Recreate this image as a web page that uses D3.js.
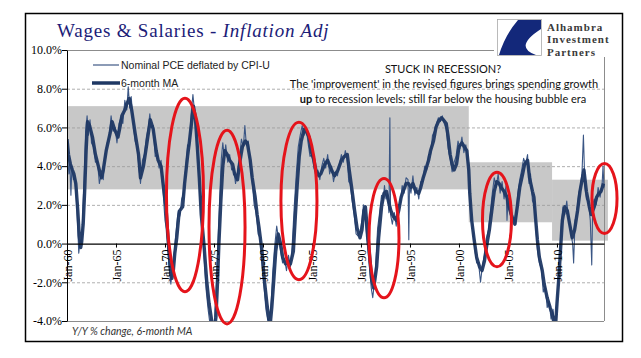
<!DOCTYPE html>
<html><head><meta charset="utf-8">
<script src="https://cdn.jsdelivr.net/npm/d3@7"></script>
<style>body{margin:0;background:#fff}svg{display:block}</style>
</head><body>
<svg id="chart" width="641" height="358"></svg>
<script>
// ---------- data ----------
const xTickYears = [1960,1965,1970,1975,1980,1985,1990,1995,2000,2005,2010];
const yTickValues = [-4,-2,0,2,4,6,8,10];
const titleMain = "Wages & Salaries - ";
const titleItalic = "Inflation Adj";
const legendLabels = ["Nominal PCE deflated by CPI-U","6-month MA"];
const noteLines = ["STUCK IN RECESSION?","The 'improvement' in the revised figures brings spending growth","up"," to recession levels; still far below the housing bubble era"];
const footnote = "Y/Y % change, 6-month MA";
const logoLines = ["Alhambra","Investment","Partners"];

// shaded ranges: [startYear, endYear, low%, high%]
const bands = [[1960,2001.0,2.8,7.1],[2001.0,2009.5,1.1,4.2],[2009.5,2015.2,0.15,3.3]];
// highlighted ellipses: [centerYear, center%, halfWidthYears, halfHeight%]
const ellipses = [[1972.04,2.51,1.89,5.0],[1976.33,0.85,1.84,5.0],[1983.67,2.2,1.84,4.07],[1992.35,0.28,1.53,3.08],[2003.88,1.24,1.48,2.44],[2014.85,2.33,1.28,1.81]];

// 6-month MA (year, %)
const maSeries = [
[1960.0,5.4],[1960.15,4.6],[1960.35,4.1],[1960.55,3.8],[1960.7,3.6],[1960.9,3.1],[1961.1,1.7],[1961.25,0.4],[1961.4,-0.2],[1961.5,0.1],[1961.65,1.0],[1961.8,2.7],[1961.95,4.8],
[1962.1,6.3],[1962.3,6.1],[1962.6,5.5],[1962.9,4.6],[1963.2,4.0],[1963.5,3.4],[1963.7,3.8],[1964.0,4.8],[1964.4,5.7],[1964.6,6.3],[1964.85,5.9],[1965.2,5.5],[1965.4,6.0],[1965.6,6.6],[1965.9,6.9],
[1966.1,7.2],[1966.35,7.5],[1966.6,6.9],[1966.95,5.7],[1967.3,4.6],[1967.5,3.4],[1967.8,4.0],[1968.1,5.0],[1968.3,5.7],[1968.5,6.4],[1968.8,5.9],[1969.1,4.8],[1969.3,4.3],[1969.6,4.0],[1969.8,3.1],
[1970.1,1.9],[1970.3,0.3],[1970.5,-1.0],[1970.7,-1.8],[1970.85,-1.4],[1971.0,-0.5],[1971.2,0.3],[1971.4,1.4],[1971.5,1.7],[1971.8,1.9],[1972.0,3.1],[1972.3,4.5],[1972.5,5.3],[1972.7,6.2],[1972.9,7.1],
[1973.1,6.5],[1973.3,5.0],[1973.5,3.4],[1973.7,1.5],[1974.0,-0.2],[1974.25,-1.9],[1974.5,-3.1],[1974.8,-4.1],[1975.0,-4.6],[1975.2,-3.8],[1975.35,-2.1],[1975.5,0.0],[1975.7,2.2],[1975.9,4.0],
[1976.1,4.8],[1976.35,4.6],[1976.6,4.3],[1976.9,4.1],[1977.1,3.6],[1977.4,3.3],[1977.6,4.1],[1977.9,5.0],[1978.2,5.3],[1978.4,5.2],[1978.7,4.3],[1978.9,3.4],[1979.2,2.4],[1979.4,1.5],[1979.6,0.8],[1979.9,-0.4],
[1980.1,-1.7],[1980.4,-3.1],[1980.6,-3.9],[1980.75,-4.1],[1980.9,-3.3],[1981.1,-1.9],[1981.3,-0.4],[1981.55,0.5],[1981.8,0.0],[1982.0,-0.7],[1982.3,-1.05],[1982.55,-0.9],[1982.8,-1.05],
[1983.1,-0.4],[1983.3,1.4],[1983.5,3.1],[1983.7,4.5],[1983.9,5.3],[1984.2,5.9],[1984.4,5.8],[1984.7,5.5],[1984.9,4.8],[1985.2,4.3],[1985.4,3.8],[1985.7,3.5],[1985.9,3.6],[1986.3,4.1],[1986.6,4.3],
[1987.0,3.8],[1987.3,3.5],[1987.65,3.8],[1988.0,4.3],[1988.3,4.5],[1988.6,4.6],[1988.8,3.8],[1989.1,2.7],[1989.35,1.7],[1989.6,0.8],[1989.9,0.3],[1990.1,0.7],[1990.3,1.7],[1990.45,1.9],[1990.65,0.7],
[1990.9,-0.7],[1991.1,-1.9],[1991.3,-2.3],[1991.6,-1.2],[1991.8,0.3],[1992.1,1.9],[1992.35,2.6],[1992.6,2.7],[1992.8,2.2],[1993.05,1.7],[1993.3,1.4],[1993.6,1.2],[1993.85,1.7],[1994.1,2.4],[1994.3,2.7],
[1994.6,3.1],[1994.85,3.1],[1995.1,2.9],[1995.3,3.1],[1995.6,2.7],[1995.9,2.6],[1996.1,2.9],[1996.35,3.4],[1996.6,3.8],[1996.9,4.3],[1997.1,4.8],[1997.4,5.3],[1997.65,6.0],[1997.9,6.3],[1998.2,6.5],
[1998.4,6.4],[1998.7,6.2],[1998.9,5.5],[1999.1,4.6],[1999.3,4.1],[1999.5,3.8],[1999.75,4.1],[2000.0,5.0],[2000.3,5.2],[2000.55,5.0],[2000.8,4.8],[2001.0,3.8],[2001.1,2.6],[2001.3,1.2],[2001.55,0.2],
[2001.8,-0.7],[2002.1,-1.2],[2002.35,-1.4],[2002.6,-0.9],[2002.8,-0.2],[2003.1,0.7],[2003.4,1.9],[2003.6,2.7],[2003.85,3.2],[2004.1,3.1],[2004.3,2.9],[2004.6,2.7],[2004.9,2.4],[2005.1,1.9],[2005.4,1.4],
[2005.7,1.0],[2005.95,1.9],[2006.2,2.9],[2006.5,3.6],[2006.7,4.1],[2007.0,4.3],[2007.2,3.4],[2007.5,2.7],[2007.65,2.4],[2007.8,1.4],[2008.0,0.2],[2008.2,-0.7],[2008.5,-1.4],[2008.7,-2.1],[2009.0,-2.8],
[2009.3,-3.3],[2009.5,-3.6],[2009.7,-4.1],[2009.85,-4.3],[2010.0,-3.1],[2010.2,-1.7],[2010.4,0.0],[2010.55,1.2],[2010.8,1.9],[2011.05,1.7],[2011.3,1.0],[2011.55,0.3],[2011.8,0.7],[2012.1,1.7],
[2012.35,2.7],[2012.6,3.4],[2012.75,3.8],[2013.0,2.7],[2013.3,1.9],[2013.5,1.5],[2013.8,1.9],[2014.05,2.4],[2014.3,2.6],[2014.5,2.7],[2014.75,3.1]
];

// Nominal PCE deflated by CPI-U (year, %)
const rawSeries = [
[1960.0,5.8],[1960.1,4.2],[1960.2,3.6],[1960.3,4.1],[1960.4,2.5],[1960.5,4.0],[1960.65,3.3],[1960.8,3.4],[1960.95,2.4],[1961.1,0.8],[1961.2,-0.5],[1961.35,0.2],[1961.5,0.0],[1961.6,1.5],[1961.75,3.4],
[1961.9,5.8],[1962.05,6.6],[1962.2,5.6],[1962.35,6.4],[1962.5,5.2],[1962.7,5.0],[1962.9,4.2],[1963.1,4.3],[1963.3,3.1],[1963.5,3.6],[1963.7,3.3],[1963.9,4.6],[1964.1,5.2],[1964.3,5.5],[1964.5,6.6],
[1964.7,5.8],[1964.9,6.0],[1965.1,5.2],[1965.3,6.2],[1965.5,6.5],[1965.7,6.2],[1965.9,7.4],[1966.1,6.9],[1966.25,8.1],[1966.4,7.0],[1966.55,7.6],[1966.75,6.3],[1966.95,5.3],[1967.15,5.0],[1967.35,3.9],
[1967.5,3.1],[1967.7,4.3],[1967.9,4.6],[1968.1,5.5],[1968.3,6.0],[1968.45,6.7],[1968.6,6.0],[1968.8,6.1],[1969.0,4.5],[1969.2,4.6],[1969.4,3.9],[1969.6,4.3],[1969.8,2.7],[1970.0,1.2],[1970.2,0.6],
[1970.4,-1.2],[1970.6,-2.1],[1970.75,-1.3],[1970.9,-0.9],[1971.05,0.2],[1971.2,1.0],[1971.35,1.7],[1971.5,1.4],[1971.7,2.3],[1971.9,2.6],[1972.1,3.8],[1972.3,5.1],[1972.5,5.0],[1972.65,6.6],[1972.85,7.7],
[1973.0,6.9],[1973.2,5.8],[1973.4,4.2],[1973.6,2.2],[1973.8,0.8],[1974.0,-0.8],[1974.2,-2.4],[1974.4,-3.4],[1974.6,-4.2],[1974.8,-4.8],[1975.0,-4.5],[1975.15,-3.0],[1975.3,-1.4],[1975.45,0.6],
[1975.6,2.6],[1975.75,4.4],[1975.9,5.2],[1976.05,4.5],[1976.2,5.1],[1976.4,4.2],[1976.6,4.6],[1976.8,3.8],[1977.0,3.9],[1977.2,3.1],[1977.4,3.7],[1977.6,4.4],[1977.8,5.4],[1978.0,5.0],[1978.15,6.1],
[1978.3,5.1],[1978.5,5.3],[1978.7,4.0],[1978.9,3.2],[1979.1,2.0],[1979.3,1.6],[1979.5,0.5],[1979.7,0.3],[1979.9,-1.0],[1980.1,-2.2],[1980.3,-3.4],[1980.5,-4.0],[1980.7,-3.8],[1980.85,-2.9],[1981.0,-1.4],
[1981.2,-0.1],[1981.4,0.9],[1981.6,0.2],[1981.8,-0.4],[1982.0,-1.0],[1982.2,-0.8],[1982.4,-1.4],[1982.6,-0.6],[1982.8,-1.2],[1983.0,0.1],[1983.2,2.0],[1983.4,3.6],[1983.6,5.0],[1983.8,5.6],[1984.0,6.1],
[1984.2,5.6],[1984.4,6.0],[1984.6,5.2],[1984.8,4.5],[1985.0,4.6],[1985.2,3.9],[1985.4,3.5],[1985.6,3.8],[1985.8,3.3],[1986.0,4.0],[1986.2,4.4],[1986.4,3.9],[1986.6,4.6],[1986.8,3.6],[1987.0,4.0],
[1987.2,3.2],[1987.4,3.7],[1987.6,3.5],[1987.8,4.1],[1988.0,4.6],[1988.2,4.2],[1988.4,4.8],[1988.6,4.4],[1988.75,3.2],[1988.9,3.1],[1989.1,2.2],[1989.3,1.5],[1989.5,0.5],[1989.7,0.4],[1989.9,0.6],
[1990.1,1.2],[1990.25,2.0],[1990.4,1.5],[1990.55,0.4],[1990.7,-0.3],[1990.9,-1.4],[1991.05,-2.3],[1991.2,-2.8],[1991.4,-1.9],[1991.55,-0.6],[1991.7,0.8],[1991.9,1.6],[1992.1,2.5],[1992.25,2.2],
[1992.4,3.0],[1992.55,2.3],[1992.7,2.6],[1992.85,1.6],[1992.95,6.5],[1993.02,1.5],[1993.2,1.0],[1993.4,1.6],[1993.6,0.9],[1993.8,2.0],[1994.0,2.0],[1994.2,3.0],[1994.4,2.6],[1994.6,3.4],[1994.8,3.3],
[1994.88,0.2],[1994.95,3.0],[1995.1,2.6],[1995.3,3.5],[1995.5,2.5],[1995.7,2.9],[1995.9,2.3],[1996.1,3.2],[1996.3,3.2],[1996.5,4.0],[1996.7,3.8],[1996.9,4.6],[1997.1,4.6],[1997.3,5.6],[1997.5,5.8],
[1997.7,6.2],[1997.9,6.5],[1998.1,6.3],[1998.3,6.6],[1998.5,6.2],[1998.7,5.9],[1998.9,4.9],[1999.1,4.4],[1999.3,3.7],[1999.5,4.2],[1999.7,4.5],[1999.9,5.3],[2000.1,4.9],[2000.3,5.5],[2000.5,4.7],
[2000.7,5.1],[2000.9,4.2],[2001.05,3.0],[2001.2,1.8],[2001.4,0.8],[2001.6,-0.2],[2001.8,-1.0],[2002.0,-1.0],[2002.2,-2.0],[2002.4,-1.1],[2002.6,-0.6],[2002.8,0.3],[2003.0,0.7],[2003.2,1.6],[2003.4,2.6],
[2003.6,3.4],[2003.8,2.9],[2004.0,3.6],[2004.2,2.6],[2004.4,3.2],[2004.6,2.3],[2004.8,3.0],[2004.9,1.2],[2005.0,2.1],[2005.2,1.6],[2005.4,1.1],[2005.6,1.3],[2005.8,1.0],[2006.0,2.6],[2006.2,3.3],
[2006.4,3.8],[2006.6,4.4],[2006.8,4.1],[2007.0,4.6],[2007.15,3.1],[2007.3,3.6],[2007.5,2.2],[2007.7,2.0],[2007.85,0.8],[2008.0,-0.3],[2008.2,-1.0],[2008.4,-1.3],[2008.6,-2.5],[2008.8,-2.2],[2009.0,-3.3],
[2009.2,-3.0],[2009.4,-3.9],[2009.6,-3.4],[2009.8,-4.5],[2009.95,-3.6],[2010.1,-2.3],[2010.3,-0.6],[2010.45,1.0],[2010.6,1.9],[2010.8,1.5],[2011.0,2.2],[2011.2,1.2],[2011.4,0.6],[2011.6,0.0],
[2011.7,-1.0],[2011.85,1.2],[2012.0,1.5],[2012.2,2.5],[2012.4,3.0],[2012.55,3.6],[2012.7,5.6],[2012.85,3.0],[2013.0,2.3],[2013.2,2.2],[2013.4,1.2],[2013.55,-1.1],[2013.65,2.0],[2013.8,2.3],[2014.0,2.0],
[2014.2,2.9],[2014.4,2.4],[2014.6,3.0],[2014.7,4.0],[2014.8,2.9]
];

// ---------- drawing ----------
const svg = d3.select("#chart");
svg.append("rect").attr("width",641).attr("height",358).attr("fill","#fff");

const x = d3.scaleLinear().domain([1960, 2014.8]).range([67, 604]);
const y = d3.scaleLinear().domain([-4, 10]).range([321, 50]);

// outer frame
svg.append("rect").attr("x",25.5).attr("y",13.5).attr("width",597).attr("height",328)
  .attr("fill","none").attr("stroke","#000").attr("stroke-width",1.5);

// bands
svg.append("g").selectAll("rect").data(bands).join("rect")
  .attr("x",d=>x(d[0])).attr("width",d=>x(d[1])-x(d[0]))
  .attr("y",d=>y(d[3])).attr("height",d=>y(d[2])-y(d[3]))
  .attr("fill","#c8c8c8");

// gridlines
svg.append("g").selectAll("line").data(yTickValues.filter(v=>v!==0 && v!==-4 && v!==10)).join("line")
  .attr("x1",x.range()[0]).attr("x2",x.range()[1]).attr("y1",d=>y(d)+0.5).attr("y2",d=>y(d)+0.5)
  .attr("stroke","#9a9a9a").attr("stroke-width",0.8).attr("stroke-dasharray","3,2");

// plot frame (top, right, bottom)
const fr = svg.append("g").attr("stroke","#8c8c8c").attr("stroke-width",1).attr("fill","none");
fr.append("line").attr("x1",x.range()[0]).attr("x2",x.range()[1]).attr("y1",y(10)+0.5).attr("y2",y(10)+0.5);
fr.append("line").attr("x1",x.range()[1]+0.5).attr("x2",x.range()[1]+0.5).attr("y1",y(10)).attr("y2",y(-4));
fr.append("line").attr("x1",x.range()[0]).attr("x2",x.range()[1]).attr("y1",y(-4)+0.5).attr("y2",y(-4)+0.5);

// clip
svg.append("clipPath").attr("id","plotclip").append("rect")
  .attr("x",x.range()[0]).attr("y",y(10)).attr("width",x.range()[1]-x.range()[0]+1).attr("height",y(-4)-y(10));

const line = d3.line().x(d=>x(d[0])).y(d=>y(d[1]));
const lines = svg.append("g").attr("clip-path","url(#plotclip)");
lines.append("path").datum(rawSeries).attr("d",line).attr("fill","none")
  .attr("stroke","#3a5685").attr("stroke-width",1.1).attr("stroke-linejoin","round");
lines.append("path").datum(maSeries).attr("d",line).attr("fill","none")
  .attr("stroke","#1f3864").attr("stroke-width",3.4).attr("stroke-linejoin","round").attr("stroke-opacity",0.95);

// y axis
const yAxis = svg.append("g").attr("transform",`translate(${x.range()[0]},0)`)
  .call(d3.axisLeft(y).tickValues(yTickValues).tickFormat(d=>d.toFixed(1)+"%").tickSize(5).tickSizeOuter(0));
yAxis.select(".domain").attr("stroke","#000");
yAxis.selectAll("line").attr("stroke","#000");
yAxis.selectAll("text").attr("font-family","'Liberation Serif', serif").attr("font-size",12).attr("fill","#000").attr("x",-5);

// x axis on 0 line
const xAxis = svg.append("g").attr("transform",`translate(0,${y(0)})`)
  .call(d3.axisBottom(x).tickValues(xTickYears).tickFormat(d=>"Jan-"+String(d).slice(2)).tickSize(4).tickSizeOuter(0));
xAxis.select(".domain").attr("stroke","#000").attr("stroke-width",1.2);
xAxis.selectAll("line").attr("stroke","#000");
xAxis.selectAll("text").attr("font-family","'Liberation Serif', serif").attr("font-size",12).attr("fill","#000")
  .attr("transform","rotate(-90)").attr("text-anchor","end").attr("x",-6).attr("y",0).attr("dy","0.35em");

// ellipses
svg.append("g").selectAll("ellipse").data(ellipses).join("ellipse")
  .attr("cx",d=>x(d[0])).attr("cy",d=>y(d[1]))
  .attr("rx",d=>x(d[0]+d[2])-x(d[0])).attr("ry",d=>y(d[1]-d[3])-y(d[1]))
  .attr("fill","none").attr("stroke","#e5141b").attr("stroke-width",3);

// legend
const lg = svg.append("g");
lg.append("line").attr("x1",93).attr("x2",119).attr("y1",65).attr("y2",65).attr("stroke","#2e4a7a").attr("stroke-width",1.1);
lg.append("line").attr("x1",92).attr("x2",120).attr("y1",83).attr("y2",83).attr("stroke","#1f3864").attr("stroke-width",3.5);
lg.selectAll("text").data(legendLabels).join("text")
  .attr("x",121).attr("y",(d,i)=>68.5+i*18.5).text(d=>d)
  .attr("font-family","'Liberation Sans', Arial, sans-serif").attr("font-size",10.5).attr("fill","#222");

// title
const t = svg.append("text").attr("x",57).attr("y",37).attr("font-family","'Liberation Serif', serif")
  .attr("font-size",19).attr("letter-spacing",0.8).attr("fill","#1c1c78");
t.append("tspan").text(titleMain);
t.append("tspan").attr("font-style","italic").text(titleItalic);

// annotation
const ann = svg.append("g").attr("font-family","Lato, 'Open Sans', sans-serif").attr("font-size",11).attr("fill","#111").attr("text-anchor","middle");
ann.append("text").attr("x",443).attr("y",73).text(noteLines[0]);
ann.append("text").attr("x",444).attr("y",87.5).text(noteLines[1]);
const a3 = ann.append("text").attr("x",443).attr("y",102.5);
a3.append("tspan").attr("font-weight","bold").text(noteLines[2]);
a3.append("tspan").text(noteLines[3]);

// footnote
svg.append("text").attr("x",72).attr("y",335).text(footnote)
  .attr("font-family","Lato, sans-serif").attr("font-style","italic").attr("font-size",10.5).attr("fill","#333");

// logo
const logo = svg.append("g");
logo.append("rect").attr("x",494).attr("y",16).attr("width",124).attr("height",41).attr("fill","#fff");
logo.append("rect").attr("x",497.5).attr("y",19.5).attr("width",44).attr("height",36).attr("fill","#fff").attr("stroke","#aaa").attr("stroke-width",0.8);
logo.append("path").attr("d","M541,20 L518,20 Q505,35 499,55 L536,55 Q513,47 541,29 Z").attr("fill","#13287a");
logo.selectAll("text.logo").data(logoLines).join("text").attr("class","logo")
  .attr("x",547).attr("y",(d,i)=>30.5+i*12.5).text(d=>d)
  .attr("font-family","'Liberation Serif', serif").attr("font-weight","bold")
  .attr("font-size",11).attr("letter-spacing",1.0).attr("fill","#3a3a3a");
</script>
</body></html>
